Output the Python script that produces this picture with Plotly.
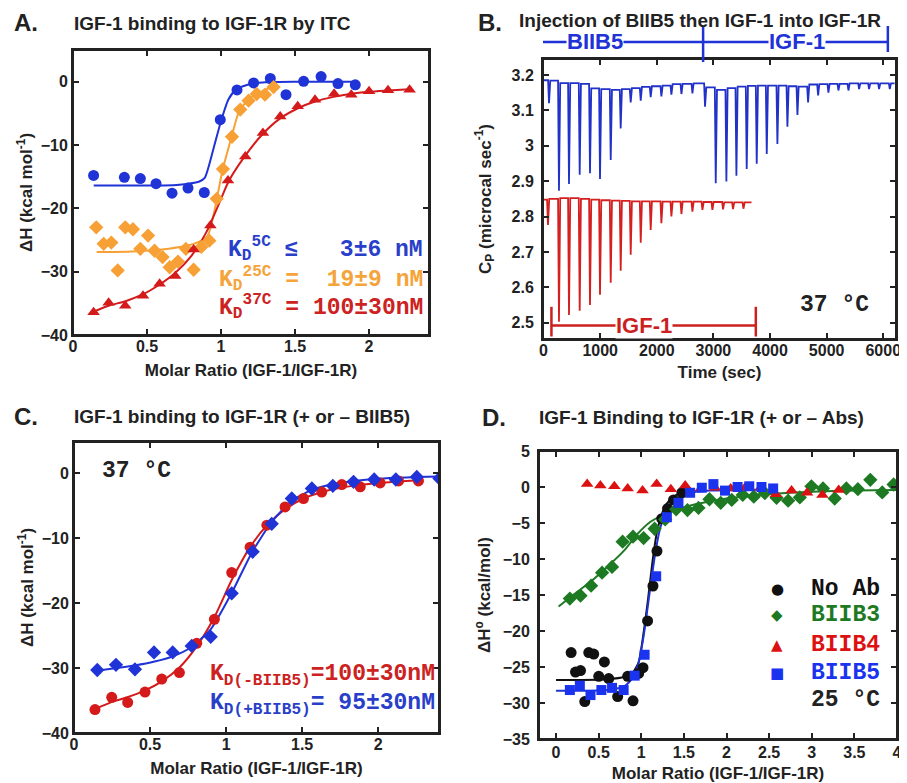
import plotly.graph_objects as go

# ---------------- Panel A data ----------------
a5_x = [0.139, 0.347, 0.455, 0.561, 0.669, 0.777, 0.887, 0.995, 1.108, 1.22, 1.333, 1.439, 1.558, 1.676, 1.79, 1.907]
a5_y = [-14.8, -15.1, -15.3, -16.1, -17.6, -16.8, -17.5, -6.0, -1.3, -0.2, 0.5, -2.05, 0.05, 0.8, -0.3, -0.5]
a5_fit_x = [0.14, 0.3, 0.5, 0.7, 0.85, 0.89, 0.95, 1.0, 1.05, 1.1, 1.18, 1.3, 1.5, 1.7, 1.9]
a5_fit_y = [-16.4, -16.4, -16.4, -16.3, -15.8, -15.2, -10.5, -6.2, -2.8, -1.3, -0.5, -0.1, 0.0, 0.0, 0.0]

a25_x = [0.157, 0.207, 0.259, 0.302, 0.353, 0.405, 0.455, 0.507, 0.551, 0.605, 0.653, 0.709, 0.763, 0.815, 0.867,
         0.921, 0.971, 1.013, 1.074, 1.13, 1.186, 1.241, 1.297, 1.355]
a25_y = [-23.0, -25.6, -25.4, -29.8, -23.0, -23.3, -26.4, -24.3, -26.7, -27.7, -29.3, -28.4, -26.4, -29.7, -26.1,
         -25.1, -18.5, -13.8, -8.7, -4.4, -3.0, -1.95, -2.05, -0.85]
a25_fit_x = [0.16, 0.4, 0.6, 0.75, 0.85, 0.91, 0.95, 0.98, 1.01, 1.07, 1.12, 1.18, 1.25, 1.36]
a25_fit_y = [-26.9, -26.8, -26.5, -26.0, -25.3, -24.3, -21.0, -17.5, -14.0, -8.8, -4.8, -2.9, -1.8, -0.7]

a37_x = [0.139, 0.241, 0.353, 0.473, 0.585, 0.691, 0.815, 0.928, 1.047, 1.164, 1.283, 1.4, 1.518, 1.635, 1.764,
         1.88, 2.0, 2.128, 2.274]
a37_y = [-36.4, -34.9, -35.4, -33.8, -31.9, -30.7, -26.5, -22.7, -15.6, -11.8, -8.1, -5.5, -3.9, -2.85, -1.9,
         -2.05, -1.5, -1.37, -1.26]
a37_fit_x = [0.139, 0.25, 0.35, 0.47, 0.58, 0.69, 0.8, 0.9, 1.0, 1.05, 1.16, 1.28, 1.4, 1.52, 1.64, 1.76, 1.88,
             2.0, 2.13, 2.27]
a37_fit_y = [-36.3, -35.3, -34.7, -33.6, -32.1, -30.2, -27.5, -23.8, -18.5, -15.8, -11.8, -8.3, -5.8, -4.2, -3.1,
             -2.4, -1.9, -1.6, -1.4, -1.2]

# ---------------- Panel B data (thermograms) ----------------
b_blue_t = [80, 256, 433, 622, 804, 981, 1170, 1346, 1523, 1700, 1876, 2065, 2242, 2419, 2613,
            2836, 3025, 3213, 3390, 3572, 3749, 3926, 4114, 4291, 4468, 4656, 4833, 5015, 5192, 5369,
            5557, 5733, 5910, 6099]
b_blue_min = [3.12, 2.873, 2.892, 2.918, 2.922, 2.906, 2.96, 3.049, 3.122, 3.127, 3.137, 3.139, 3.144, 3.146,
              3.148, 3.11, 2.894, 2.899, 2.915, 2.934, 2.949, 2.977, 3.005, 3.054, 3.087, 3.122, 3.142, 3.15,
              3.156, 3.156, 3.16, 3.16, 3.16, 3.16]
b_blue_start = 3.185
b_blue_base = [3.184, 3.177, 3.177, 3.175, 3.162, 3.160, 3.158, 3.160, 3.163, 3.166, 3.168, 3.170, 3.174, 3.175,
               3.176, 3.165, 3.158, 3.163, 3.167, 3.169, 3.170, 3.170, 3.170, 3.168, 3.167, 3.173, 3.174, 3.175,
               3.175, 3.176, 3.176, 3.176, 3.176, 3.176]
b_blue_end = 6200

b_red_t = [62, 256, 433, 622, 804, 981, 1170, 1346, 1523, 1700, 1876, 2065, 2242, 2419, 2613, 2790, 2966,
           3154, 3330, 3514]
b_red_min = [2.776, 2.503, 2.522, 2.534, 2.55, 2.579, 2.613, 2.647, 2.692, 2.726, 2.762, 2.781, 2.8, 2.807,
             2.814, 2.819, 2.819, 2.82, 2.821, 2.822]
b_red_start = 2.848
b_red_base = [2.850, 2.852, 2.852, 2.850, 2.848, 2.846, 2.845, 2.844, 2.843, 2.843, 2.843, 2.842, 2.842, 2.842,
              2.842, 2.841, 2.841, 2.840, 2.840, 2.840]
b_red_end = 3673

# ---------------- Panel C data ----------------
c_minus_x = [0.138, 0.248, 0.353, 0.467, 0.577, 0.693, 0.807, 0.923, 1.037, 1.158, 1.268, 1.388, 1.509, 1.629,
             1.761, 1.882, 2.013, 2.134, 2.265]
c_minus_y = [-36.4, -34.5, -35.3, -33.7, -31.7, -30.7, -26.2, -22.5, -15.3, -11.4, -8.0, -5.2, -3.9, -2.9,
             -1.75, -2.1, -1.5, -1.2, -1.2]
c_minus_fit_x = [0.138, 0.25, 0.35, 0.47, 0.58, 0.69, 0.8, 0.92, 1.04, 1.16, 1.27, 1.39, 1.51, 1.63, 1.76, 1.88,
                 2.01, 2.13, 2.27]
c_minus_fit_y = [-36.3, -35.2, -34.5, -33.4, -32.0, -30.0, -26.9, -22.3, -16.3, -11.3, -8.0, -5.5, -3.9, -2.9,
                 -2.2, -1.8, -1.5, -1.3, -1.1]
c_plus_x = [0.153, 0.276, 0.401, 0.526, 0.649, 0.774, 0.899, 1.037, 1.175, 1.3, 1.432, 1.564, 1.702, 1.838,
            1.974, 2.116, 2.254, 2.403]
c_plus_y = [-30.3, -29.5, -30.2, -27.6, -27.6, -26.6, -25.2, -18.5, -12.1, -7.8, -3.9, -2.36, -1.95, -1.33,
            -0.97, -0.97, -0.57, -0.82]
c_plus_fit_x = [0.15, 0.28, 0.4, 0.53, 0.65, 0.77, 0.9, 1.04, 1.17, 1.3, 1.43, 1.56, 1.7, 1.84, 1.97, 2.12,
                2.25, 2.4]
c_plus_fit_y = [-30.4, -30.0, -29.6, -29.0, -28.2, -26.8, -24.0, -18.3, -12.2, -7.5, -4.3, -2.6, -1.7, -1.2,
                -0.9, -0.7, -0.6, -0.5]

# ---------------- Panel D data ----------------
d_noab_x = [0.177, 0.228, 0.287, 0.337, 0.384, 0.442, 0.501, 0.567, 0.618, 0.723, 0.84, 0.903, 0.969, 1.02,
            1.074, 1.137, 1.184, 1.24, 1.308, 1.378, 1.476]
d_noab_y = [-23.0, -25.7, -25.5, -29.8, -23.0, -23.2, -26.3, -24.3, -26.6, -29.1, -26.3, -29.7, -25.9, -25.1,
            -18.6, -13.75, -8.9, -4.4, -3.0, -1.8, -0.8]
d_noab_fit_x = [0.0, 0.3, 0.6, 0.8, 0.9, 0.97, 1.03, 1.08, 1.13, 1.18, 1.24, 1.3, 1.38, 1.48]
d_noab_fit_y = [-26.8, -26.8, -26.7, -26.4, -25.8, -24.3, -20.0, -15.5, -10.5, -6.5, -3.8, -2.3, -1.3, -0.7]

d_b3_x = [0.162, 0.287, 0.411, 0.54, 0.657, 0.781, 0.903, 1.027, 1.156, 1.28, 1.409, 1.542, 1.671, 1.8, 1.932,
          2.061, 2.19, 2.32, 2.45, 2.587, 2.723, 2.86, 2.996, 3.132, 3.269, 3.406, 3.541, 3.687, 3.827, 3.96]
d_b3_y = [-15.5, -15.1, -13.7, -11.9, -11.1, -7.6, -6.9, -7.1, -5.8, -4.5, -3.1, -3.2, -2.9, -1.7, -2.2, -1.8,
          -1.1, -1.35, -0.85, -1.5, -1.9, -1.45, 0.1, -0.2, -1.6, -0.2, -0.3, 1.0, -0.75, 0.35]
d_b3_fit_x = [0.03, 0.2, 0.4, 0.6, 0.8, 0.95, 1.1, 1.25, 1.4, 1.6, 1.8, 2.0, 2.3, 2.6, 3.0, 3.5, 4.0]
d_b3_fit_y = [-16.6, -15.0, -13.2, -11.1, -8.8, -6.6, -4.9, -3.9, -3.2, -2.5, -2.0, -1.6, -1.2, -0.9, -0.65,
              -0.5, -0.4]

d_b4_x = [0.365, 0.52, 0.684, 0.84, 1.015, 1.18, 1.347, 1.515, 1.698, 1.865, 2.049, 2.216, 2.4, 2.579, 2.763,
          2.945, 3.125, 3.316]
d_b4_y = [0.4, 0.2, 0.1, -0.2, -0.5, 0.4, -0.3, 0.2, -0.2, -0.1, -0.2, -0.1, -0.1, -1.0, -0.5, -0.8, -1.1, -0.4]

d_b5_x = [0.162, 0.279, 0.404, 0.532, 0.657, 0.793, 0.922, 1.039, 1.175, 1.3, 1.436, 1.573, 1.71, 1.846, 1.982,
          2.13, 2.267, 2.41, 2.547]
d_b5_y = [-28.2, -27.6, -28.9, -28.2, -27.9, -28.2, -26.2, -23.3, -12.4, -4.2, -2.2, -0.8, -0.1, 0.4, -0.5, 0.0,
          0.1, 0.0, -0.2]
d_b5_fit_x = [0.0, 0.3, 0.6, 0.8, 0.9, 0.97, 1.03, 1.1, 1.16, 1.22, 1.3, 1.4, 1.55, 1.8, 2.2, 2.55]
d_b5_fit_y = [-28.3, -28.3, -28.2, -27.7, -26.5, -24.3, -20.5, -14.5, -9.5, -5.8, -3.2, -1.8, -0.9, -0.5, -0.4,
              -0.4]

d_legend_names = ["No Ab", "BIIB3", "BIIB4", "BIIB5"]

# ---------------- geometry / styling ----------------
PAGE_W, PAGE_H = 907, 783
OFF = 8                      # default page margin around the plot div
W, H = PAGE_W - OFF, PAGE_H - OFF

BLUE = "#1f33d6"
ORANGE = "#f7a035"
RED = "#d41a1a"
GREEN = "#1d7a23"
BLACK = "#111111"
D_RED = "#dd1111"
D_BLUE = "#1a33ee"
SANS = "Liberation Sans, Arial, sans-serif"
MONO = "Liberation Mono, Courier New, monospace"

def fx(p):
    return (p - OFF) / W

def fy(p):
    return 1 - (p - OFF) / H

def px_dom_x(a, b):
    return [fx(a), fx(b)]

def px_dom_y(top, bottom):
    return [fy(bottom), fy(top)]

fig = go.Figure()

def add_pts(x, y, color, symbol, size, xa, ya):
    fig.add_trace(go.Scatter(x=x, y=y, mode="markers", xaxis=xa, yaxis=ya, showlegend=False,
                             marker=dict(color=color, symbol=symbol, size=size, line=dict(width=0))))

def add_line(x, y, color, xa, ya, width=2, shape="spline"):
    fig.add_trace(go.Scatter(x=x, y=y, mode="lines", xaxis=xa, yaxis=ya, showlegend=False,
                             line=dict(color=color, width=width, shape=shape, smoothing=0.6)))

# Panel A
add_line(a5_fit_x, a5_fit_y, BLUE, "x", "y")
add_line(a25_fit_x, a25_fit_y, ORANGE, "x", "y")
add_line(a37_fit_x, a37_fit_y, RED, "x", "y")
add_pts(a5_x, a5_y, BLUE, "circle", 11, "x", "y")
add_pts(a25_x, a25_y, ORANGE, "diamond", 11, "x", "y")
add_pts(a37_x, a37_y, RED, "triangle-up", 11, "x", "y")

# Panel B thermograms
def thermogram(times, mins, start, bases, t_end):
    xs, ys = [0], [start]
    prev = start
    for t, m, b in zip(times, mins, bases):
        xs += [t, t + 16, t + 38]
        ys += [prev, m, b]
        prev = b
    xs.append(t_end)
    ys.append(prev)
    return xs, ys

bx, by = thermogram(b_blue_t, b_blue_min, b_blue_start, b_blue_base, b_blue_end)
rx, ry = thermogram(b_red_t, b_red_min, b_red_start, b_red_base, b_red_end)
fig.add_trace(go.Scatter(x=bx, y=by, mode="lines", xaxis="x2", yaxis="y2", showlegend=False,
                         line=dict(color="#2232c8", width=1.8)))
fig.add_trace(go.Scatter(x=rx, y=ry, mode="lines", xaxis="x2", yaxis="y2", showlegend=False,
                         line=dict(color="#d42020", width=1.8)))

# Panel C
add_line(c_minus_fit_x, c_minus_fit_y, RED, "x3", "y3")
add_line(c_plus_fit_x, c_plus_fit_y, BLUE, "x3", "y3")
add_pts(c_minus_x, c_minus_y, RED, "circle", 11, "x3", "y3")
add_pts(c_plus_x, c_plus_y, BLUE, "diamond", 11, "x3", "y3")

# Panel D
add_line(d_b3_fit_x, d_b3_fit_y, GREEN, "x4", "y4")
add_line(d_noab_fit_x, d_noab_fit_y, BLACK, "x4", "y4")
add_line(d_b5_fit_x, d_b5_fit_y, BLUE, "x4", "y4")
add_pts(d_noab_x, d_noab_y, BLACK, "circle", 11, "x4", "y4")
add_pts(d_b3_x, d_b3_y, GREEN, "diamond", 11, "x4", "y4")
add_pts(d_b4_x, d_b4_y, D_RED, "triangle-up", 11, "x4", "y4")
add_pts(d_b5_x, d_b5_y, D_BLUE, "square", 10, "x4", "y4")

tickfont = dict(family=SANS, size=16, color="#222222", weight="bold")
titlefont = dict(family=SANS, size=17, color="#222222", weight="bold")

def axis(dom, rng, dtick, title, standoff, anchor, lab_off=0):
    return dict(domain=dom, range=rng, dtick=dtick, tick0=0, showline=True, mirror="ticks",
                linecolor="#222222", linewidth=2, ticks="inside", ticklen=6, tickwidth=2,
                tickcolor="#222222", showgrid=False, zeroline=False, tickfont=tickfont, automargin=False,
                ticklabelstandoff=lab_off,
                title=dict(text=title, font=titlefont, standoff=standoff), fixedrange=True, anchor=anchor)

layout_axes = dict(
    xaxis=axis(px_dom_x(73, 429), [0, 2.405], 0.5, "Molar Ratio (IGF-1/IGF-1R)", 10, "y", -4),
    yaxis=axis(px_dom_y(50, 335), [-40, 5], 10, "ΔH (kcal mol<sup>-1</sup>)", 4, "x"),
    xaxis2=axis(px_dom_x(543, 896), [-10, 6225], 1000, "Time (sec)", 8, "y2", -4),
    yaxis2=axis(px_dom_y(59, 339), [2.454, 3.245], 0.1, "C<sub>P</sub> (microcal sec<sup>-1</sup>)", 16, "x2", 4),
    xaxis3=axis(px_dom_x(74, 439), [0, 2.4], 0.5, "Molar Ratio (IGF-1/IGF-1R)", 10, "y3", -4),
    yaxis3=axis(px_dom_y(442, 733), [-40, 4.8], 10, "ΔH (kcal mol<sup>-1</sup>)", 4, "x3"),
    xaxis4=axis(px_dom_x(539, 897), [-0.2, 4.0], 0.5, "Molar Ratio (IGF-1/IGF-1R)", 7, "y4", -2),
    yaxis4=axis(px_dom_y(451, 739), [-35, 5], 5, "ΔH<sup>o</sup> (kcal/mol)", 8, "x4", 4),
)

annotations = []
shapes = []

# frames around each plotting area
for xr, yr in [("x", "y"), ("x2", "y2"), ("x3", "y3"), ("x4", "y4")]:
    shapes.append(dict(type="rect", xref=xr + " domain", yref=yr + " domain", x0=0, x1=1, y0=0, y1=1,
                       line=dict(color="#222222", width=2), fillcolor="rgba(0,0,0,0)", layer="above"))

def ptxt(text, x, y, size, color="#222222", xanchor="left", family=SANS):
    annotations.append(dict(text=text, x=fx(x), y=fy(y), xref="paper", yref="paper", xanchor=xanchor,
                            yanchor="middle", showarrow=False,
                            font=dict(family=family, size=size, color=color, weight="bold")))

# panel letters and titles
ptxt("A.", 12, 22, 24)
ptxt("IGF-1 binding to IGF-1R by ITC", 72, 24, 19)
ptxt("B.", 476, 22, 24)
ptxt("Injection of BIIB5 then IGF-1 into IGF-1R", 517, 20, 19)
ptxt("C.", 12, 416, 24)
ptxt("IGF-1 binding to IGF-1R (+ or – BIIB5)", 72, 416, 19)
ptxt("D.", 480, 417, 24)
ptxt("IGF-1 Binding to IGF-1R (+ or – Abs)", 537, 417, 19)

NB = "\u00a0"

def dtxt(text, x, y, xr, yr, color, size=23, xanchor="right", family=MONO):
    annotations.append(dict(text=text, x=x, y=y, xref=xr, yref=yr, xanchor=xanchor, yanchor="middle",
                            showarrow=False, font=dict(family=family, size=size, color=color, weight="bold")))

# Panel A Kd labels
dtxt("K<sub>D</sub><sup>5C</sup>" + NB + "≤" + NB * 3 + "3±6" + NB + "nM", 2.38, -26.4, "x", "y", "#2a3fc9")
dtxt("K<sub>D</sub><sup>25C</sup>" + NB + "=" + NB * 2 + "19±9" + NB + "nM", 2.38, -31.1, "x", "y", "#f4a43a")
dtxt("K<sub>D</sub><sup>37C</sup>" + NB + "=" + NB + "100±30nM", 2.38, -35.5, "x", "y", "#cc2222")

# Panel B temperature
dtxt("37" + NB + "°C", 5145, 2.55, "x2", "y2", "#222222", xanchor="center")

# Panel C labels
dtxt("37" + NB + "°C", 0.17, 0.4, "x3", "y3", "#222222", xanchor="left")
dtxt("K<sub>D(-BIIB5)</sub>=100±30nM", 2.39, -31.2, "x3", "y3", "#cc2222")
dtxt("K<sub>D(+BIIB5)</sub>=" + NB + "95±30nM", 2.39, -35.6, "x3", "y3", "#2a3fc9")

# Panel D legend (symbols + names as text) and temperature
leg_symbols = ["●", "◆", "▲", "■"]
leg_colors = [BLACK, GREEN, D_RED, D_BLUE]
leg_rows_px = [589, 615, 645, 673]
for sym, name, col, ypx in zip(leg_symbols, d_legend_names, leg_colors, leg_rows_px):
    annotations.append(dict(text=sym, x=fx(777), y=fy(ypx), xref="paper", yref="paper", xanchor="center",
                            yanchor="middle", showarrow=False,
                            font=dict(family="DejaVu Sans", size=15, color=col)))
    annotations.append(dict(text=name, x=fx(809), y=fy(ypx), xref="paper", yref="paper", xanchor="left",
                            yanchor="middle", showarrow=False,
                            font=dict(family=MONO, size=23, color=col, weight="bold")))
annotations.append(dict(text="25" + NB + "°C", x=fx(809), y=fy(700), xref="paper", yref="paper",
                        xanchor="left", yanchor="middle", showarrow=False,
                        font=dict(family=MONO, size=23, color="#222222", weight="bold")))

# Panel B brackets (injection ranges in time units)
blue_br_y = fy(42)
t_b0, t_b1, t_b2 = -37, 2818, 6081
for t0, t1 in [(t_b0, t_b1), (t_b1, t_b2)]:
    shapes.append(dict(type="line", xref="x2", yref="paper", x0=t0, x1=t1, y0=blue_br_y, y1=blue_br_y,
                       line=dict(color=BLUE, width=2.5)))
for t, top, bot in [(t_b0, 30, 52), (t_b1, 26, 62), (t_b2, 26, 52)]:
    shapes.append(dict(type="line", xref="x2", yref="paper", x0=t, x1=t, y0=fy(bot), y1=fy(top),
                       line=dict(color=BLUE, width=2.5)))
annotations.append(dict(text="BIIB5", x=905, y=blue_br_y, xref="x2", yref="paper",
                        showarrow=False, bgcolor="white", borderpad=0, yanchor="middle",
                        font=dict(family=SANS, size=22, color=BLUE, weight="bold")))
annotations.append(dict(text="IGF-1", x=4482, y=blue_br_y, xref="x2", yref="paper",
                        showarrow=False, bgcolor="white", borderpad=0, yanchor="middle",
                        font=dict(family=SANS, size=22, color=BLUE, weight="bold")))
t_r0, t_r1 = 139, 3749
shapes.append(dict(type="line", xref="x2", yref="y2", x0=t_r0, x1=t_r1, y0=2.492, y1=2.492,
                   line=dict(color="#cc1f1f", width=2.5)))
for t in (t_r0, t_r1):
    shapes.append(dict(type="line", xref="x2", yref="y2", x0=t, x1=t, y0=2.461, y1=2.545,
                       line=dict(color="#cc1f1f", width=2.5)))
annotations.append(dict(text="IGF-1", x=1770, y=2.492, xref="x2", yref="y2",
                        showarrow=False, bgcolor="white", borderpad=0, yanchor="middle",
                        font=dict(family=SANS, size=22, color="#cc1f1f", weight="bold")))

fig.update_layout(
    width=W, height=H, margin=dict(l=0, r=0, t=0, b=0, autoexpand=False),
    paper_bgcolor="white", plot_bgcolor="white",
    annotations=annotations, shapes=shapes, showlegend=False,
    **layout_axes,
)

fig.write_html("out.html")
